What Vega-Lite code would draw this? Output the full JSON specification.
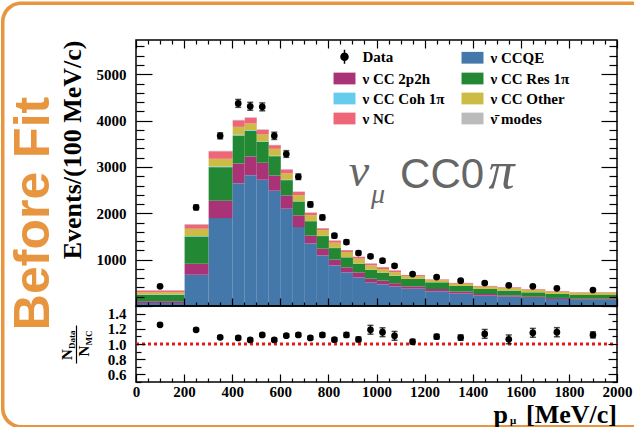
{
  "$schema": "https://vega.github.io/schema/vega-lite/v6.json",
  "background": "white",
  "padding": 0,
  "spacing": 0,
  "bounds": "flush",
  "datasets": {
    "mc": [
      {"lo":0,"hi":200,"ν CCQE":65,"ν CC 2p2h":36,"ν CC Res 1π":144,"ν CC Coh 1π":3,"ν CC Other":50,"ν NC":38,"ν\u0304 modes":4},
      {"lo":200,"hi":300,"ν CCQE":676,"ν CC 2p2h":237,"ν CC Res 1π":589,"ν CC Coh 1π":8,"ν CC Other":158,"ν NC":92,"ν\u0304 modes":7},
      {"lo":300,"hi":400,"ν CCQE":1897,"ν CC 2p2h":375,"ν CC Res 1π":724,"ν CC Coh 1π":15,"ν CC Other":166,"ν NC":162,"ν\u0304 modes":10},
      {"lo":400,"hi":450,"ν CCQE":2651,"ν CC 2p2h":424,"ν CC Res 1π":604,"ν CC Coh 1π":15,"ν CC Other":172,"ν NC":141,"ν\u0304 modes":10},
      {"lo":450,"hi":500,"ν CCQE":2823,"ν CC 2p2h":403,"ν CC Res 1π":554,"ν CC Coh 1π":14,"ν CC Other":144,"ν NC":125,"ν\u0304 modes":10},
      {"lo":500,"hi":550,"ν CCQE":2724,"ν CC 2p2h":367,"ν CC Res 1π":452,"ν CC Coh 1π":12,"ν CC Other":145,"ν NC":105,"ν\u0304 modes":10},
      {"lo":550,"hi":600,"ν CCQE":2487,"ν CC 2p2h":330,"ν CC Res 1π":416,"ν CC Coh 1π":10,"ν CC Other":149,"ν NC":78,"ν\u0304 modes":8},
      {"lo":600,"hi":650,"ν CCQE":2099,"ν CC 2p2h":287,"ν CC Res 1π":330,"ν CC Coh 1π":8,"ν CC Other":136,"ν NC":86,"ν\u0304 modes":7},
      {"lo":650,"hi":700,"ν CCQE":1703,"ν CC 2p2h":252,"ν CC Res 1π":301,"ν CC Coh 1π":6,"ν CC Other":130,"ν NC":74,"ν\u0304 modes":6},
      {"lo":700,"hi":750,"ν CCQE":1350,"ν CC 2p2h":170,"ν CC Res 1π":310,"ν CC Coh 1π":5,"ν CC Other":125,"ν NC":54,"ν\u0304 modes":5},
      {"lo":750,"hi":800,"ν CCQE":1090,"ν CC 2p2h":147,"ν CC Res 1π":272,"ν CC Coh 1π":4,"ν CC Other":125,"ν NC":39,"ν\u0304 modes":4},
      {"lo":800,"hi":850,"ν CCQE":877,"ν CC 2p2h":123,"ν CC Res 1π":250,"ν CC Coh 1π":4,"ν CC Other":112,"ν NC":46,"ν\u0304 modes":4},
      {"lo":850,"hi":900,"ν CCQE":726,"ν CC 2p2h":108,"ν CC Res 1π":216,"ν CC Coh 1π":3,"ν CC Other":111,"ν NC":40,"ν\u0304 modes":3},
      {"lo":900,"hi":950,"ν CCQE":618,"ν CC 2p2h":108,"ν CC Res 1π":188,"ν CC Coh 1π":3,"ν CC Other":104,"ν NC":41,"ν\u0304 modes":3},
      {"lo":950,"hi":1000,"ν CCQE":504,"ν CC 2p2h":86,"ν CC Res 1π":194,"ν CC Coh 1π":3,"ν CC Other":90,"ν NC":40,"ν\u0304 modes":3},
      {"lo":1000,"hi":1050,"ν CCQE":467,"ν CC 2p2h":80,"ν CC Res 1π":173,"ν CC Coh 1π":2,"ν CC Other":75,"ν NC":41,"ν\u0304 modes":3},
      {"lo":1050,"hi":1100,"ν CCQE":420,"ν CC 2p2h":72,"ν CC Res 1π":160,"ν CC Coh 1π":2,"ν CC Other":76,"ν NC":37,"ν\u0304 modes":3},
      {"lo":1100,"hi":1200,"ν CCQE":374,"ν CC 2p2h":50,"ν CC Res 1π":159,"ν CC Coh 1π":2,"ν CC Other":60,"ν NC":22,"ν\u0304 modes":3},
      {"lo":1200,"hi":1300,"ν CCQE":317,"ν CC 2p2h":50,"ν CC Res 1π":144,"ν CC Coh 1π":2,"ν CC Other":45,"ν NC":15,"ν\u0304 modes":2},
      {"lo":1300,"hi":1400,"ν CCQE":267,"ν CC 2p2h":43,"ν CC Res 1π":121,"ν CC Coh 1π":2,"ν CC Other":48,"ν NC":17,"ν\u0304 modes":2},
      {"lo":1400,"hi":1500,"ν CCQE":224,"ν CC 2p2h":35,"ν CC Res 1π":108,"ν CC Coh 1π":1,"ν CC Other":50,"ν NC":15,"ν\u0304 modes":2},
      {"lo":1500,"hi":1600,"ν CCQE":202,"ν CC 2p2h":28,"ν CC Res 1π":102,"ν CC Coh 1π":1,"ν CC Other":55,"ν NC":15,"ν\u0304 modes":2},
      {"lo":1600,"hi":1700,"ν CCQE":175,"ν CC 2p2h":25,"ν CC Res 1π":95,"ν CC Coh 1π":1,"ν CC Other":53,"ν NC":14,"ν\u0304 modes":2},
      {"lo":1700,"hi":1800,"ν CCQE":152,"ν CC 2p2h":22,"ν CC Res 1π":88,"ν CC Coh 1π":1,"ν CC Other":48,"ν NC":12,"ν\u0304 modes":2},
      {"lo":1800,"hi":2000,"ν CCQE":135,"ν CC 2p2h":20,"ν CC Res 1π":83,"ν CC Coh 1π":1,"ν CC Other":47,"ν NC":12,"ν\u0304 modes":2}
    ],
    "pts": [
      {"x":100,"n":424,"err":25,"ratio":1.253,"rerr":0.02},
      {"x":250,"n":2127,"err":50,"ratio":1.187,"rerr":0.02},
      {"x":350,"n":3672,"err":65,"ratio":1.088,"rerr":0.02},
      {"x":425,"n":4372,"err":85,"ratio":1.080,"rerr":0.02},
      {"x":475,"n":4310,"err":85,"ratio":1.053,"rerr":0.02},
      {"x":525,"n":4297,"err":85,"ratio":1.120,"rerr":0.02},
      {"x":575,"n":3672,"err":78,"ratio":1.053,"rerr":0.02},
      {"x":625,"n":3280,"err":72,"ratio":1.110,"rerr":0.02},
      {"x":675,"n":2789,"err":60,"ratio":1.120,"rerr":0.02},
      {"x":725,"n":2192,"err":55,"ratio":1.080,"rerr":0.02},
      {"x":775,"n":1911,"err":50,"ratio":1.120,"rerr":0.025},
      {"x":825,"n":1517,"err":45,"ratio":1.057,"rerr":0.025},
      {"x":875,"n":1379,"err":45,"ratio":1.120,"rerr":0.03},
      {"x":925,"n":1142,"err":40,"ratio":1.060,"rerr":0.03},
      {"x":975,"n":1071,"err":40,"ratio":1.187,"rerr":0.058},
      {"x":1025,"n":978,"err":40,"ratio":1.155,"rerr":0.058},
      {"x":1075,"n":866,"err":35,"ratio":1.107,"rerr":0.058},
      {"x":1150,"n":690,"err":25,"ratio":1.030,"rerr":0.03},
      {"x":1250,"n":625,"err":25,"ratio":1.097,"rerr":0.03},
      {"x":1350,"n":547,"err":22,"ratio":1.084,"rerr":0.035},
      {"x":1450,"n":496,"err":25,"ratio":1.133,"rerr":0.058},
      {"x":1550,"n":446,"err":22,"ratio":1.061,"rerr":0.058},
      {"x":1650,"n":424,"err":22,"ratio":1.147,"rerr":0.058},
      {"x":1750,"n":381,"err":20,"ratio":1.155,"rerr":0.06},
      {"x":1900,"n":345,"err":15,"ratio":1.120,"rerr":0.04}
    ]
  },
  "vconcat": [
    {
      "width": 481,
      "height": 266,
      "layer": [
        {
          "data": {"values": [{}]},
          "mark": {"type": "rect", "fill": "#E8953F", "strokeWidth": 0, "cornerRadiusTopLeft": 20, "cornerRadiusBottomLeft": 20, "clip": false},
          "encoding": {
            "x": {"datum": -561.33, "type": "quantitative", "axis": null},
            "x2": {"datum": 2074.84},
            "y": {"datum": 6570.9, "type": "quantitative", "axis": null},
            "y2": {"datum": -2643.5}
          }
        },
        {
          "data": {"values": [{}]},
          "mark": {"type": "rect", "fill": "white", "strokeWidth": 0, "cornerRadiusTopLeft": 17, "cornerRadiusBottomLeft": 17, "clip": false},
          "encoding": {
            "x": {"datum": -546.8, "type": "quantitative", "axis": null},
            "x2": {"datum": 2074.84},
            "y": {"datum": 6495.4, "type": "quantitative", "axis": null},
            "y2": {"datum": -2568}
          }
        },
        {
          "data": {"name": "mc"},
          "transform": [
            {"fold": ["ν CCQE", "ν CC 2p2h", "ν CC Res 1π", "ν CC Coh 1π", "ν CC Other", "ν NC", "ν\u0304 modes"], "as": ["comp", "n"]},
            {"calculate": "indexof(['ν CCQE', 'ν CC 2p2h', 'ν CC Res 1π', 'ν CC Coh 1π', 'ν CC Other', 'ν NC', 'ν\u0304 modes'], datum.comp)", "as": "k"}
          ],
          "mark": {"type": "bar", "binSpacing": 0},
          "encoding": {
            "x": {
              "field": "lo", "type": "quantitative", "bin": {"binned": true},
              "scale": {"domain": [0, 2000], "nice": false, "zero": false},
              "axis": {
                "orient": "bottom", "labels": false, "title": null, "zindex": 2,
                "values": [0,50,100,150,200,250,300,350,400,450,500,550,600,650,700,750,800,850,900,950,1000,1050,1100,1150,1200,1250,1300,1350,1400,1450,1500,1550,1600,1650,1700,1750,1800,1850,1900,1950,2000],
                "tickSize": {"condition": {"test": "datum.value % 200 === 0", "value": -8}, "value": -4}
              }
            },
            "x2": {"field": "hi"},
            "y": {
              "field": "n", "type": "quantitative", "stack": "zero",
              "scale": {"domain": [0, 5740], "nice": false, "zero": false},
              "axis": {
                "orient": "left", "zindex": 2,
                "values": [0,200,400,600,800,1000,1200,1400,1600,1800,2000,2200,2400,2600,2800,3000,3200,3400,3600,3800,4000,4200,4400,4600,4800,5000,5200,5400,5600],
                "format": "d",
                "labelExpr": "datum.value % 1000 === 0 && datum.value > 0 ? datum.label : ''",
                "tickSize": {"condition": {"test": "datum.value % 1000 === 0", "value": -16}, "value": -8},
                "labelPadding": 26,
                "title": "Events/(100 MeV/c)",
                "titleFont": "Liberation Serif", "titleFontWeight": "bold", "titleFontSize": 26,
                "titleAnchor": "end", "titlePadding": 11
              }
            },
            "color": {
              "field": "comp", "type": "nominal",
              "scale": {
                "domain": ["Data", "ν CC 2p2h", "ν CC Coh 1π", "ν NC", "ν CCQE", "ν CC Res 1π", "ν CC Other", "ν\u0304 modes"],
                "range": ["#000000", "#AA3377", "#66CCEE", "#EE6677", "#4477AA", "#228833", "#CCBB44", "#BBBBBB"]
              },
              "legend": {
                "orient": "none", "legendX": 201, "legendY": 9,
                "title": null, "columns": 2, "columnPadding": 16, "rowPadding": 4,
                "padding": 0, "symbolSize": 246, "labelOffset": 10.5, "labelLimit": 0,
                "labelFont": "Liberation Serif", "labelFontWeight": "bold", "labelFontSize": 15, "labelColor": "black",
                "symbolOpacity": 1,
                "encode": {
                  "symbols": {
                    "update": {
                      "shape": {"signal": "datum.value === 'Data' ? 'M0,-0.9L0,0.9M-0.45,0A0.45,0.45,0,1,0,0.45,0A0.45,0.45,0,1,0,-0.45,0Z' : 'M-1.4,-0.75H1.4V0.75H-1.4Z'"},
                      "stroke": {"value": "black"},
                      "strokeWidth": {"signal": "datum.value === 'Data' ? 1.5 : 0"}
                    }
                  }
                }
              }
            },
            "order": {"field": "k", "type": "quantitative"}
          }
        },
        {
          "data": {"name": "pts"},
          "mark": {"type": "errorbar", "ticks": {"size": 6, "thickness": 1.5}, "thickness": 1.5, "color": "black"},
          "encoding": {
            "x": {"field": "x", "type": "quantitative", "axis": null},
            "y": {"field": "n", "type": "quantitative", "axis": null, "scale": {"domain": [0, 5740], "nice": false, "zero": false}},
            "yError": {"field": "err"}
          }
        },
        {
          "data": {"name": "pts"},
          "mark": {"type": "point", "filled": true, "size": 45, "opacity": 1},
          "encoding": {
            "x": {
              "field": "x", "type": "quantitative",
              "axis": {
                "orient": "top", "labels": false, "title": null, "zindex": 2,
                "values": [0,50,100,150,200,250,300,350,400,450,500,550,600,650,700,750,800,850,900,950,1000,1050,1100,1150,1200,1250,1300,1350,1400,1450,1500,1550,1600,1650,1700,1750,1800,1850,1900,1950,2000],
                "tickSize": {"condition": {"test": "datum.value % 200 === 0", "value": -8}, "value": -4}
              }
            },
            "y": {
              "field": "n", "type": "quantitative",
              "scale": {"domain": [0, 5740], "nice": false, "zero": false},
              "axis": {
                "orient": "right", "labels": false, "title": null, "zindex": 2,
                "values": [0,200,400,600,800,1000,1200,1400,1600,1800,2000,2200,2400,2600,2800,3000,3200,3400,3600,3800,4000,4200,4400,4600,4800,5000,5200,5400,5600],
                "tickSize": {"condition": {"test": "datum.value % 1000 === 0", "value": -16}, "value": -8}
              }
            },
            "color": {"datum": "Data"}
          }
        },
        {
          "data": {"values": [{}]},
          "mark": {"type": "rect", "fillOpacity": 0, "stroke": "black", "strokeWidth": 1.5},
          "encoding": {
            "x": {"datum": 0, "type": "quantitative", "axis": null},
            "x2": {"datum": 2000},
            "y": {"datum": 0, "type": "quantitative", "axis": null},
            "y2": {"datum": 5740}
          }
        },
        {
          "data": {"values": [{}]},
          "mark": {"type": "text", "text": "Before Fit", "font": "Liberation Sans", "fontWeight": "bold", "fontSize": 50, "color": "#E8953F", "angle": 270, "align": "center", "baseline": "alphabetic"},
          "encoding": {
            "x": {"datum": -362, "type": "quantitative", "axis": null},
            "y": {"datum": 1996, "type": "quantitative", "axis": null}
          }
        },
        {
          "data": {"values": [{}]},
          "mark": {"type": "text", "text": "ν", "font": "Liberation Serif", "fontStyle": "italic", "fontSize": 46, "color": "#666666", "align": "center", "baseline": "alphabetic"},
          "encoding": {
            "x": {"datum": 927, "type": "quantitative", "axis": null},
            "y": {"datum": 2579, "type": "quantitative", "axis": null}
          }
        },
        {
          "data": {"values": [{}]},
          "mark": {"type": "text", "text": "μ", "font": "Liberation Serif", "fontStyle": "italic", "fontSize": 28, "color": "#666666", "align": "center", "baseline": "alphabetic"},
          "encoding": {
            "x": {"datum": 1006, "type": "quantitative", "axis": null},
            "y": {"datum": 2233, "type": "quantitative", "axis": null}
          }
        },
        {
          "data": {"values": [{}]},
          "mark": {"type": "text", "text": "CC0", "font": "Liberation Sans", "fontSize": 42, "color": "#666666", "align": "left", "baseline": "alphabetic"},
          "encoding": {
            "x": {"datum": 1098, "type": "quantitative", "axis": null},
            "y": {"datum": 2557, "type": "quantitative", "axis": null}
          }
        },
        {
          "data": {"values": [{}]},
          "mark": {"type": "text", "text": "π", "font": "Liberation Serif", "fontStyle": "italic", "fontSize": 52, "color": "#666666", "align": "left", "baseline": "alphabetic"},
          "encoding": {
            "x": {"datum": 1466, "type": "quantitative", "axis": null},
            "y": {"datum": 2557, "type": "quantitative", "axis": null}
          }
        }
      ],
      "resolve": {"axis": {"x": "independent", "y": "independent"}}
    },
    {
      "width": 481,
      "height": 76,
      "layer": [
        {
          "data": {"values": [{}]},
          "mark": {"type": "rule", "color": "#E41A1C", "strokeWidth": 3, "strokeDash": [3, 3]},
          "encoding": {
            "x": {"datum": 0, "type": "quantitative", "axis": null},
            "x2": {"datum": 2000},
            "y": {
              "datum": 1, "type": "quantitative",
              "axis": {
                "orient": "right", "labels": false, "title": null, "zindex": 2,
                "values": [0.5,0.6,0.7,0.8,0.9,1.0,1.1,1.2,1.3,1.4,1.5],
                "tickSize": {"condition": {"test": "round(datum.value*10) % 2 === 0", "value": -9}, "value": -5}
              }
            }
          }
        },
        {
          "data": {"name": "pts"},
          "mark": {"type": "errorbar", "ticks": {"size": 6, "thickness": 1.5}, "thickness": 1.5, "color": "black"},
          "encoding": {
            "x": {"field": "x", "type": "quantitative", "axis": null},
            "y": {"field": "ratio", "type": "quantitative", "axis": null, "scale": {"domain": [0.5, 1.5], "nice": false, "zero": false}},
            "yError": {"field": "rerr"}
          }
        },
        {
          "data": {"name": "pts"},
          "mark": {"type": "point", "filled": true, "size": 45, "color": "black", "opacity": 1},
          "encoding": {
            "x": {
              "field": "x", "type": "quantitative",
              "scale": {"domain": [0, 2000], "nice": false, "zero": false},
              "axis": {
                "orient": "bottom", "title": null, "format": "d", "labelFlush": false, "zindex": 2,
                "values": [0,50,100,150,200,250,300,350,400,450,500,550,600,650,700,750,800,850,900,950,1000,1050,1100,1150,1200,1250,1300,1350,1400,1450,1500,1550,1600,1650,1700,1750,1800,1850,1900,1950,2000],
                "labelExpr": "datum.value % 200 === 0 ? datum.label : ''",
                "tickSize": {"condition": {"test": "datum.value % 200 === 0", "value": -8}, "value": -4},
                "labelPadding": 10
              }
            },
            "y": {
              "field": "ratio", "type": "quantitative",
              "scale": {"domain": [0.5, 1.5], "nice": false, "zero": false},
              "axis": {
                "orient": "left", "title": null, "format": ".1f", "zindex": 2,
                "values": [0.5,0.6,0.7,0.8,0.9,1.0,1.1,1.2,1.3,1.4,1.5],
                "labelExpr": "round(datum.value*10) % 2 === 0 ? datum.label : ''",
                "tickSize": {"condition": {"test": "round(datum.value*10) % 2 === 0", "value": -9}, "value": -5},
                "labelPadding": 19
              }
            }
          }
        },
        {
          "data": {"values": [{}]},
          "mark": {"type": "text", "text": "p", "font": "Liberation Serif", "fontWeight": "bold", "fontSize": 26, "color": "black", "align": "right", "baseline": "alphabetic"},
          "encoding": {
            "x": {"datum": 1547, "type": "quantitative", "axis": null},
            "y": {"datum": -0.033, "type": "quantitative", "axis": null}
          }
        },
        {
          "data": {"values": [{}]},
          "mark": {"type": "text", "text": "μ", "font": "Liberation Serif", "fontWeight": "bold", "fontSize": 11, "color": "black", "align": "center", "baseline": "alphabetic"},
          "encoding": {
            "x": {"datum": 1568, "type": "quantitative", "axis": null},
            "y": {"datum": -0.059, "type": "quantitative", "axis": null}
          }
        },
        {
          "data": {"values": [{}]},
          "mark": {"type": "text", "text": "[MeV/c]", "font": "Liberation Serif", "fontWeight": "bold", "fontSize": 26, "color": "black", "align": "right", "baseline": "alphabetic"},
          "encoding": {
            "x": {"datum": 2000, "type": "quantitative", "axis": null},
            "y": {"datum": -0.033, "type": "quantitative", "axis": null}
          }
        },
        {
          "data": {"values": [{}]},
          "mark": {"type": "text", "text": "N", "font": "Liberation Serif", "fontWeight": "bold", "fontSize": 15, "color": "black", "angle": 270, "align": "left", "baseline": "alphabetic"},
          "encoding": {
            "x": {"datum": -266, "type": "quantitative", "axis": null},
            "y": {"datum": 0.789, "type": "quantitative", "axis": null}
          }
        },
        {
          "data": {"values": [{}]},
          "mark": {"type": "text", "text": "Data", "font": "Liberation Serif", "fontWeight": "bold", "fontSize": 9, "color": "black", "angle": 270, "align": "left", "baseline": "alphabetic"},
          "encoding": {
            "x": {"datum": -254, "type": "quantitative", "axis": null},
            "y": {"datum": 0.934, "type": "quantitative", "axis": null}
          }
        },
        {
          "data": {"values": [{}]},
          "mark": {"type": "rule", "color": "black", "strokeWidth": 1.2},
          "encoding": {
            "x": {"datum": -247.4, "type": "quantitative", "axis": null},
            "y": {"datum": 1.243, "type": "quantitative", "axis": null},
            "y2": {"datum": 0.743}
          }
        },
        {
          "data": {"values": [{}]},
          "mark": {"type": "text", "text": "N", "font": "Liberation Serif", "fontWeight": "bold", "fontSize": 15, "color": "black", "angle": 270, "align": "left", "baseline": "alphabetic"},
          "encoding": {
            "x": {"datum": -195.4, "type": "quantitative", "axis": null},
            "y": {"datum": 0.836, "type": "quantitative", "axis": null}
          }
        },
        {
          "data": {"values": [{}]},
          "mark": {"type": "text", "text": "MC", "font": "Liberation Serif", "fontWeight": "bold", "fontSize": 9, "color": "black", "angle": 270, "align": "left", "baseline": "alphabetic"},
          "encoding": {
            "x": {"datum": -183, "type": "quantitative", "axis": null},
            "y": {"datum": 0.980, "type": "quantitative", "axis": null}
          }
        }
      ],
      "resolve": {"axis": {"x": "independent", "y": "independent"}}
    }
  ],
  "config": {
    "view": {"stroke": "black", "strokeWidth": 1.5},
    "axis": {
      "domain": false, "grid": false, "tickColor": "black", "tickWidth": 1.2,
      "labelFont": "Liberation Serif", "labelFontWeight": "bold", "labelFontSize": 15, "labelColor": "black",
      "titleColor": "black"
    },
    "font": "Liberation Serif"
  }
}
